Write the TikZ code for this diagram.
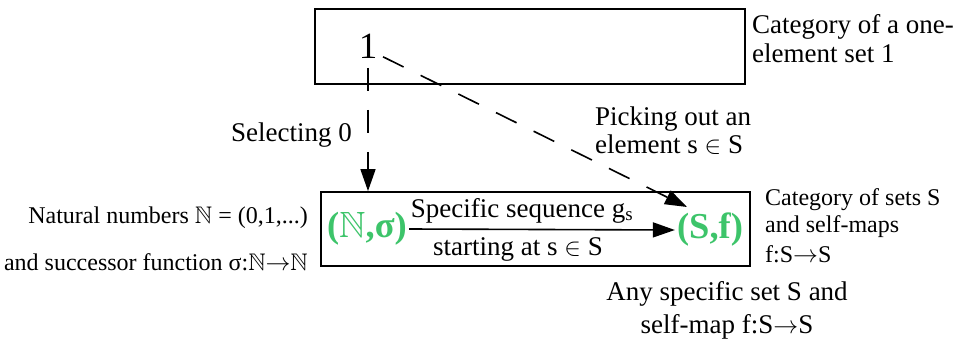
\documentclass[tikz,border=0pt]{standalone}
\usepackage{amssymb}
\usepackage{fontspec}
\setmainfont{Liberation Serif}
\usetikzlibrary{arrows.meta}
\definecolor{objgreen}{RGB}{61,196,106}
\tikzset{
  box/.style={draw, line width=1.8pt, inner sep=0pt},
  lbl/.style={font=\fontsize{27}{30}\selectfont, inner sep=0pt},
  small/.style={font=\fontsize{24}{28}\selectfont, inner sep=0pt},
  obj/.style={font=\fontsize{36.5}{40}\selectfont\bfseries, text=objgreen, inner sep=2pt},
  dashconn/.style={line width=1.6pt, dash pattern=on 23pt off 19pt, -{Triangle[length=22pt,width=15pt]}},
  solidconn/.style={line width=1.6pt, -{Triangle[length=22pt,width=15pt]}}
}
\begin{document}
\begin{tikzpicture}[x=1pt,y=-1pt]
\useasboundingbox (0,0) rectangle (960,339);
% boxes
\node[box, minimum width=430pt, minimum height=75pt] (upper) at (530,46.5) {};
\node[box, minimum width=429pt, minimum height=74pt] (lower) at (535.5,229) {};
% objects
\node[anchor=base, font=\fontsize{37}{40}\selectfont, inner sep=1pt] (one) at (368,59) {1};
\node[obj, anchor=center] (ns) at (367,229) {($\mathbb{N}$,σ)};
\node[obj, anchor=center] (sf) at (710,230) {(S,f)};
% connectors
\draw[dashconn] ([shift={(0,21)}]one.center) -- (one.center |- lower.north);
\draw[dashconn] ([shift={(15,10)}]one.center) -- ([shift={(-23,-23)}]sf.center);
\draw[solidconn] (ns.east) -- (sf.west);
% labels
\node[lbl, anchor=base] (spec) at (522,217) {Specific sequence g\textsubscript{s}};
\node[lbl, anchor=base] (start) at (518,255) {starting at s $\in$ S};
\node[lbl, anchor=base east] (sel) at (352,142) {Selecting 0};
\node[font=\fontsize{27}{28}\selectfont, inner sep=0pt, align=left, anchor=north west] (pick) at (595,106.5) {Picking out an\\element s $\in$ S};
\node[lbl, anchor=base west] (cat1a) at (752,34) {Category of a one-};
\node[lbl, anchor=base west] (cat1b) at (752,63) {element set 1};
\node[small, anchor=base east] (nat1) at (308,223) {Natural numbers $\mathbb{N}$ = (0,1,...)};
\node[small, anchor=base east] (nat2) at (308,270) {and successor function σ:$\mathbb{N}{\rightarrow}\mathbb{N}$};
\node[small, anchor=base west] (cat2a) at (765,205) {Category of sets S};
\node[small, anchor=base west] (cat2b) at (765,232) {and self-maps};
\node[small, anchor=base west] (cat2c) at (765,262) {f:S$\rightarrow$S};
\node[lbl, anchor=base] (any1) at (727,300) {Any specific set S and};
\node[lbl, anchor=base] (any2) at (727,333) {self-map f:S$\rightarrow$S};
\end{tikzpicture}
\end{document}
